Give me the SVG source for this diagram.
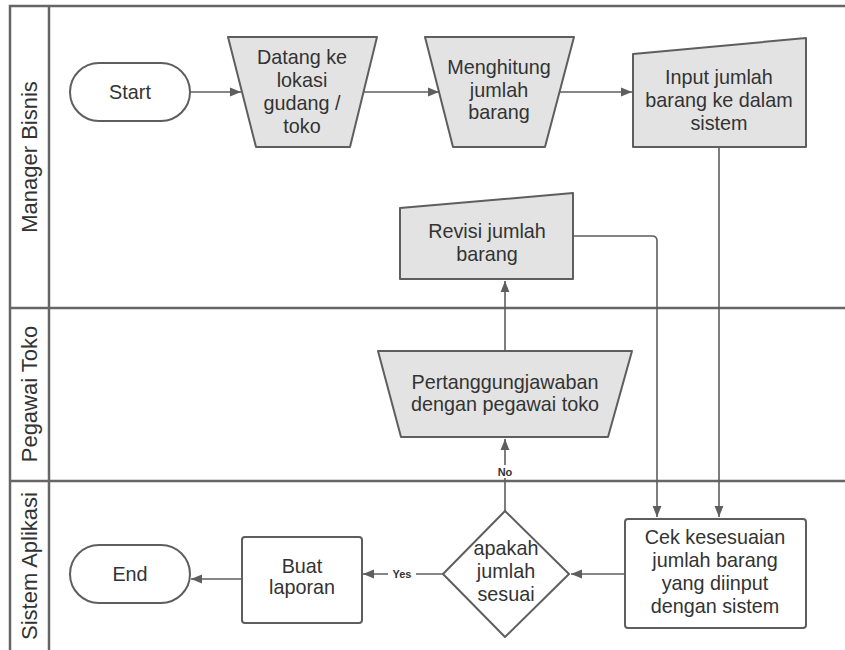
<svg xmlns="http://www.w3.org/2000/svg" width="845" height="650" viewBox="0 0 845 650">
<defs>
<marker id="ah" viewBox="0 0 10 10" refX="10" refY="5" markerWidth="11" markerHeight="11" markerUnits="userSpaceOnUse" orient="auto">
<path d="M0,1 L10,5 L0,9 Z" fill="#5e5e5e"/>
</marker>
<style>
.lane{fill:none;stroke:#666;stroke-width:2.5}
.sh{fill:#e3e3e3;stroke:#5e5e5e;stroke-width:2;stroke-linejoin:round}
.wh{fill:#fff;stroke:#5e5e5e;stroke-width:2;stroke-linejoin:round}
.t{font-family:"Liberation Sans",Arial,sans-serif;font-size:19.8px;fill:#333;text-anchor:middle}
.lt{font-family:"Liberation Sans",Arial,sans-serif;font-size:22px;fill:#333;text-anchor:middle}
.lb{font-family:"Liberation Sans",Arial,sans-serif;font-size:11px;font-weight:bold;fill:#333;text-anchor:middle}
.c{fill:none;stroke:#5e5e5e;stroke-width:1.6;marker-end:url(#ah)}
</style>
</defs>
<rect width="845" height="650" fill="#fff"/>
<g id="lanes">
<path class="lane" d="M847,6 H10 V652 M49,6 V652 M10,308 H847 M10,481 H847"/>
<text class="lt" transform="translate(37,157) rotate(-90)">Manager Bisnis</text>
<text class="lt" transform="translate(37,394) rotate(-90)">Pegawai Toko</text>
<text class="lt" transform="translate(37,566) rotate(-90)">Sistem Aplikasi</text>
</g>
<g id="connectors">
<path class="c" d="M190,92 H241"/>
<path class="c" d="M364,92 H439"/>
<path class="c" d="M560,92 H632"/>
<path class="c" d="M719,147 V517"/>
<path class="c" d="M573,236 H652 Q657,236 657,241 V517"/>
<path class="c" d="M625,574 H571"/>
<path class="c" d="M505,511 V439"/>
<path class="c" d="M505,351 V281"/>
<path class="c" d="M443,574 H363"/>
<path class="c" d="M242,579 H191"/>
<rect x="496" y="465" width="18" height="13" fill="#fff"/>
<text class="lb" x="505" y="476">No</text>
<rect x="388" y="568" width="28" height="13" fill="#fff"/>
<text class="lb" x="402" y="578">Yes</text>
</g>
<g id="start">
<rect class="wh" x="70" y="63" width="120" height="58" rx="29"/>
<text class="t" x="130" y="99">Start</text>
</g>
<g id="datang">
<path class="sh" d="M228,37 H377 L350,147 H256 Z"/>
<text class="t" x="302" y="64">Datang ke</text>
<text class="t" x="302" y="87">lokasi</text>
<text class="t" x="302" y="110">gudang /</text>
<text class="t" x="302" y="133">toko</text>
</g>
<g id="menghitung">
<path class="sh" d="M425,37 H574 L545,147 H453 Z"/>
<text class="t" x="499" y="74">Menghitung</text>
<text class="t" x="499" y="97">jumlah</text>
<text class="t" x="499" y="119">barang</text>
</g>
<g id="input">
<path class="sh" d="M633,54 L806,38 V147 H633 Z"/>
<text class="t" x="719" y="84">Input jumlah</text>
<text class="t" x="719" y="107">barang ke dalam</text>
<text class="t" x="719" y="130">sistem</text>
</g>
<g id="revisi">
<path class="sh" d="M400,208 L573,193 V279 H400 Z"/>
<text class="t" x="487" y="238">Revisi jumlah</text>
<text class="t" x="487" y="261">barang</text>
</g>
<g id="pertanggungjawaban">
<path class="sh" d="M378,351 H632 L608,437 H401 Z"/>
<text class="t" x="505" y="389">Pertanggungjawaban</text>
<text class="t" x="505" y="411">dengan pegawai toko</text>
</g>
<g id="cek">
<rect class="wh" x="625" y="519" width="181" height="109" rx="3"/>
<text class="t" x="715" y="544">Cek kesesuaian</text>
<text class="t" x="715" y="567">jumlah barang</text>
<text class="t" x="715" y="590">yang diinput</text>
<text class="t" x="715" y="613">dengan sistem</text>
</g>
<g id="decision">
<path class="wh" d="M505,511 L569,574 L505,637 L443,574 Z"/>
<text class="t" x="506" y="555">apakah</text>
<text class="t" x="506" y="578">jumlah</text>
<text class="t" x="506" y="601">sesuai</text>
</g>
<g id="buat">
<rect class="wh" x="242" y="537" width="120" height="86" rx="3"/>
<text class="t" x="302" y="573">Buat</text>
<text class="t" x="302" y="594">laporan</text>
</g>
<g id="end">
<rect class="wh" x="70" y="545" width="120" height="58" rx="29"/>
<text class="t" x="130" y="581">End</text>
</g>
</svg>
